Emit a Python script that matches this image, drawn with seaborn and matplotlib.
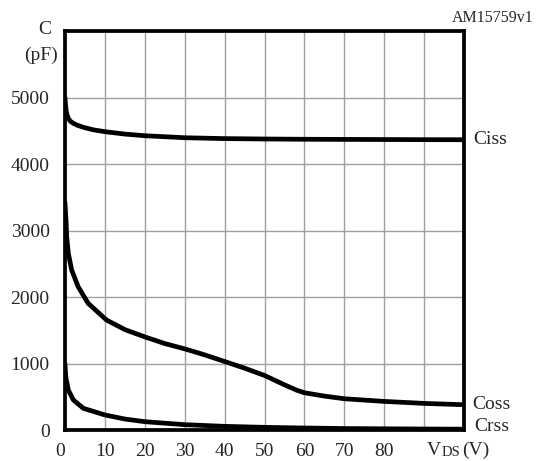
import matplotlib
matplotlib.use("Agg")
import matplotlib.pyplot as plt
import seaborn as sns
import pandas as pd

# ---- data ----
ciss_v = [0, 0.1, 0.25, 0.5, 0.83, 1.3, 2.1, 3, 4.6, 7, 10, 15, 20, 30, 40, 50, 60, 70, 80, 90, 100]
ciss_c = [5000, 4920, 4812, 4740, 4687, 4645, 4612, 4585, 4552, 4515, 4486, 4450, 4425, 4395, 4382, 4376, 4372, 4370, 4368, 4366, 4365]

coss_v = [0, 0.1, 0.25, 0.42, 0.83, 1.67, 3.3, 5.8, 10.4, 15, 20, 25, 30, 35, 40, 45, 50, 55, 58, 60, 65, 70, 80, 90, 100]
coss_c = [3420, 3300, 3160, 2907, 2657, 2406, 2155, 1905, 1654, 1510, 1400, 1300, 1220, 1130, 1030, 930, 820, 680, 600, 560, 510, 470, 430, 400, 380]

crss_v = [0, 0.1, 0.25, 0.83, 2.1, 4.6, 10, 15, 20, 30, 40, 50, 60, 70, 80, 90, 100]
crss_c = [1000, 880, 777, 601, 451, 326, 226, 165, 125, 80, 55, 40, 30, 22, 18, 15, 12]

x_ticks = [0, 10, 20, 30, 40, 50, 60, 70, 80]
x_tick_labels = ["0", "10", "20", "30", "40", "50", "60", "70", "80"]
y_ticks = [0, 1000, 2000, 3000, 4000, 5000]
y_tick_labels = ["0", "1000", "2000", "3000", "4000", "5000"]

df = pd.concat([
    pd.DataFrame({"V": ciss_v, "C": ciss_c, "s": "Ciss"}),
    pd.DataFrame({"V": coss_v, "C": coss_c, "s": "Coss"}),
    pd.DataFrame({"V": crss_v, "C": crss_c, "s": "Crss"}),
])

sns.set_style("white")
plt.rcParams["font.family"] = ["Liberation Serif", "DejaVu Serif"]

fig = plt.figure(figsize=(5.49, 4.61), dpi=100)
ax = fig.add_axes([65 / 549, 1 - 430 / 461, (464 - 65) / 549, (430 - 31) / 461])

sns.lineplot(data=df, x="V", y="C", hue="s", palette=["black"] * 3,
             linewidth=3.4, legend=False, ax=ax, sort=False, estimator=None)

ax.set_xlim(0, 100)
ax.set_ylim(0, 6000)
xt = list(range(0, 101, 10))
yt = list(range(0, 6001, 1000))
ax.set_xticks(xt)
ax.set_yticks(yt)
ax.grid(True, color="#a0a0a0", linewidth=1.0)
ax.set_axisbelow(True)

ax.set_xticklabels([x_tick_labels[x_ticks.index(t)] if t in x_ticks else "" for t in xt])
ax.set_yticklabels([y_tick_labels[y_ticks.index(t)] if t in y_ticks else "" for t in yt])
ax.tick_params(axis="both", length=0, labelsize=14)
ax.tick_params(axis="x", pad=9)
ax.tick_params(axis="y", pad=11)
ax.get_xticklabels()[0].set_horizontalalignment("right")
ax.set_xlabel("")
ax.set_ylabel("")

for sp in ax.spines.values():
    sp.set_linewidth(2.7)
    sp.set_color("black")

# annotations
fig.text(45 / 549, 1 - 30 / 461, "C", ha="center", va="center", fontsize=14)
fig.text(41 / 549, 1 - 55 / 461, "(pF)", ha="center", va="center", fontsize=14)
fig.text(534 / 549, 1 - 18 / 461, "AM15759v1", ha="right", va="center", fontsize=11.5)
fig.text(473 / 549, 1 - 139 / 461, "Ciss", ha="left", va="center", fontsize=14)
fig.text(472 / 549, 1 - 404 / 461, "Coss", ha="left", va="center", fontsize=14)
fig.text(474 / 549, 1 - 426 / 461, "Crss", ha="left", va="center", fontsize=14)
fig.text(427 / 549, 1 - 450 / 461, "V", ha="left", va="center", fontsize=14)
fig.text(442 / 549, 1 - 452 / 461, "DS", ha="left", va="center", fontsize=10.5)
fig.text(462 / 549, 1 - 450 / 461, "(V)", ha="left", va="center", fontsize=14)

fig.savefig("out.png", dpi=100)
